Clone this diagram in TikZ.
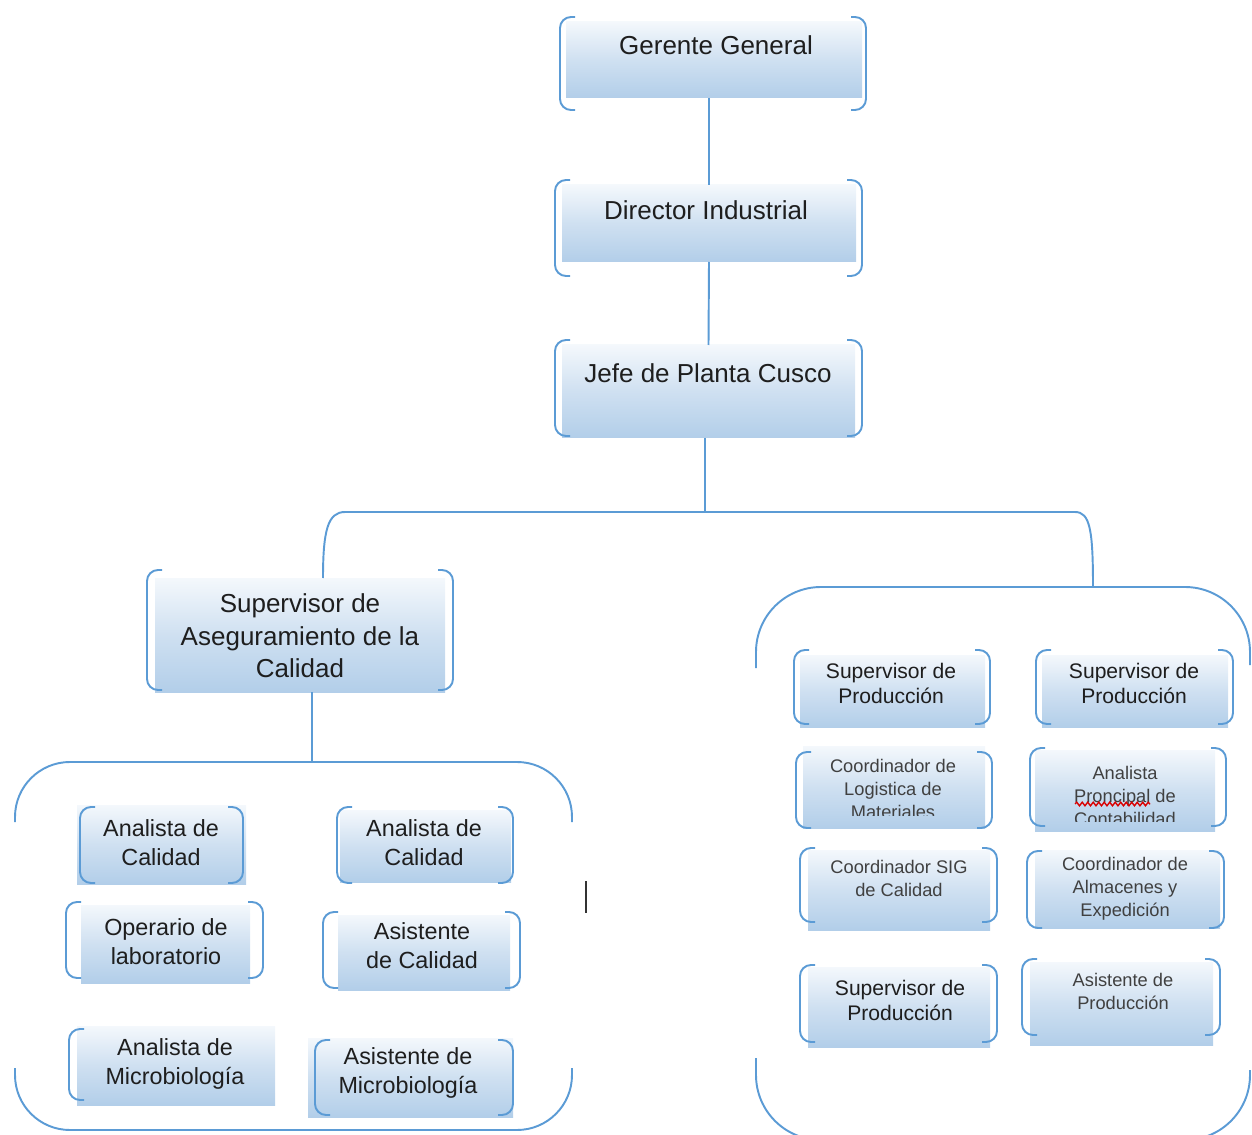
\documentclass[tikz,border=0pt]{standalone}
\usepackage{fontspec}
\setmainfont{Liberation Sans}
\usetikzlibrary{fit,decorations.pathmorphing}
\definecolor{bl}{HTML}{5B9BD5}
\definecolor{boxtop}{HTML}{F4F8FC}
\definecolor{boxmid}{HTML}{CFE0F1}
\definecolor{boxbot}{HTML}{B2CEE9}
\definecolor{txt}{HTML}{1E1E1E}
\newcommand\lbrk[3]{\draw[brk] (#1+15,#2) -- (#1,#2) -- (#1,#3) -- (#1+15,#3);}
\newcommand\rbrk[3]{\draw[brk] (#1-15,#2) -- (#1,#2) -- (#1,#3) -- (#1-15,#3);}
\newcommand\orgbox[9]{%
  \node[boxfill, fit={(#2,#3) (#4,#5)}] (#1) {};
  \lbrk{#6}{#7}{#9}\rbrk{#8}{#7}{#9}}
\begin{document}
\begin{tikzpicture}[x=0.02cm,y=-0.02cm,
  boxfill/.style={inner sep=0pt, outer sep=0pt, draw=none, top color=boxtop, bottom color=boxbot, middle color=boxmid},
  brk/.style={draw=bl, line width=1.1pt, rounded corners=0.22cm},
  conn/.style={draw=bl, line width=1.1pt},
  tmain/.style={font=\fontsize{14.8}{18.6}\selectfont, align=center, text=txt, inner sep=0pt},
  tleft/.style={font=\fontsize{13.3}{16.5}\selectfont, align=center, text=txt, inner sep=0pt},
  tsup/.style={font=\fontsize{12}{14.2}\selectfont, align=center, text=txt, inner sep=0pt},
  tsmall/.style={font=\fontsize{10.4}{13.1}\selectfont, align=center, text=txt!85, inner sep=0pt}]
\useasboundingbox (0,0) rectangle (1252,1135);

% top chain
\orgbox{gg}{566}{22}{862}{98}{560}{17}{866}{110}
\node[tmain] (ggt) at (716,45) {Gerente General};
\orgbox{di}{562}{185}{856}{262}{555}{180}{862}{276}
\node[tmain] (dit) at (706,210) {Director Industrial};
\orgbox{jp}{562}{345}{855}{438}{555}{340}{862}{436}
\node[tmain] (jpt) at (708,373) {Jefe de Planta Cusco};
\orgbox{sac}{155}{578}{445}{692}{147}{570}{453}{690}
\node[tmain] (sact) at (300,636) {Supervisor de\\Aseguramiento de la\\Calidad};

% left group boxes
\orgbox{ac1}{77}{805}{246}{884}{80}{807}{243}{883}
\node[tleft] (ac1t) at (161,843) {Analista de\\Calidad};
\orgbox{ac2}{340}{810}{511}{882}{337}{807}{513}{883}
\node[tleft] (ac2t) at (424,843) {Analista de\\Calidad};
\orgbox{op}{81}{905}{250}{983}{66}{902}{263}{978}
\node[tleft] (opt) at (166,942) {Operario de\\laboratorio};
\orgbox{as}{338}{915}{510}{990}{323}{912}{520}{988}
\node[tleft] (ast) at (422,946) {Asistente\\de Calidad};
\node[boxfill, fit={(77,1026) (275,1105)}] (am) {};
\lbrk{69}{1029}{1100}
\node[tleft] (amt) at (175,1064) {Analista de\\Microbiología};
\orgbox{asm}{308}{1038}{513}{1117}{315}{1040}{513}{1115}
\node[tleft] (asmt) at (408,1073) {Asistente de\\Microbiología};

% right group boxes
\orgbox{r1}{800}{655}{985}{727}{794}{650}{990}{724}
\node[tsup] (r1t) at (891,683) {Supervisor de\\Producción};
\orgbox{r2}{1042}{655}{1228}{727}{1036}{650}{1233}{724}
\node[tsup] (r2t) at (1134,683) {Supervisor de\\Producción};
\orgbox{r3}{803}{746}{985}{828}{796}{752}{992}{828}
\begin{scope}
\clip (700,740) rectangle (1000,815);
\node[tsmall] (r3t) at (893,789) {Coordinador de\\Logistica de\\Materiales};
\end{scope}
\orgbox{r4}{1035}{750}{1215}{831}{1030}{748}{1226}{826}
\begin{scope}
\clip (1000,740) rectangle (1240,821);
\node[tsmall] (r4t) at (1125,796) {Analista\\Proncipal de\\Contabilidad};
\end{scope}
\draw[red!85!black, line width=0.8pt, decorate, decoration={snake, amplitude=0.035cm, segment length=0.11cm}] (1075,804) -- (1150,804);
\orgbox{r5}{808}{850}{990}{930}{800}{848}{997}{922}
\node[tsmall] (r5t) at (899,878) {Coordinador SIG\\de Calidad};
\orgbox{r6}{1035}{850}{1220}{928}{1027}{851}{1224}{928}
\node[tsmall] (r6t) at (1125,889) {Coordinador de\\Almacenes y\\Expedición};
\orgbox{r7}{808}{967}{990}{1047}{800}{965}{997}{1042}
\node[tsup] (r7t) at (900,1000) {Supervisor de\\Producción};
\orgbox{r8}{1030}{962}{1213}{1045}{1022}{959}{1220}{1035}
\node[tsmall] (r8t) at (1123,991) {Asistente de\\Producción};

% connectors
\coordinate (fork) at (705,512);
\coordinate (fl) at (323,578);
\coordinate (fr) at (1093,587);
\coordinate (lgt) at (312,762);
\draw[conn] (gg.south -| di.north) -- (di.north);
\draw[conn] (di.south) -- (jp.north);
\draw[conn] (fork |- jp.south) -- (fork);
\draw[conn] (fl) .. controls (323,530) and (328,512) .. (345,512) -- (1075,512)
  .. controls (1090,512) and (1093,530) .. (fr);
\draw[conn] (sac.south -| lgt) -- (lgt);

% group outlines
\draw[conn, rounded corners=1.1cm] (15,822) -- (15,762) -- (572,762) -- (572,822);
\draw[conn, rounded corners=1.1cm] (15,1068) -- (15,1130) -- (572,1130) -- (572,1068);
\draw[conn, rounded corners=1.3cm] (756,668) -- (756,587) -- (1250,587) -- (1250,665);
\draw[conn, rounded corners=1.3cm] (756,1058) -- (756,1140) -- (1250,1140) -- (1250,1070);

% text cursor
\draw[black!80, line width=1.1pt] (586,881) -- (586,913);
\end{tikzpicture}
\end{document}
